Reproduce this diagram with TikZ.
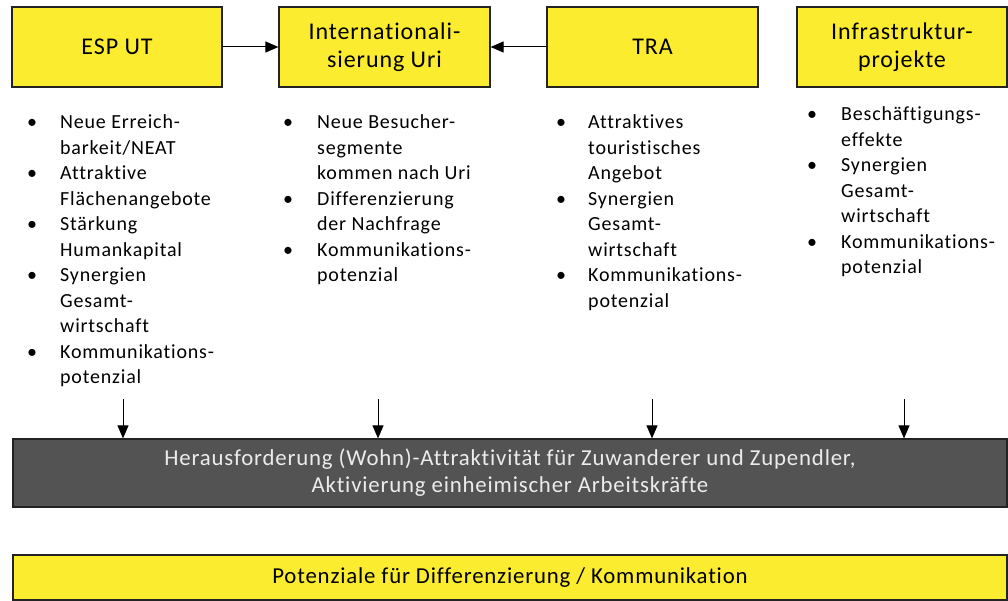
\documentclass[tikz,border=0pt]{standalone}
\usepackage{fontspec}
\setmainfont[Ligatures=NoCommon]{Carlito}
\newfontfamily\titlef[Ligatures=NoCommon, LetterSpace=3.8]{Carlito}
\newfontfamily\bodyf[Ligatures=NoCommon, LetterSpace=4.0]{Carlito}
\newfontfamily\widef[Ligatures=NoCommon, LetterSpace=3.6]{Carlito}
\usepackage{array}
\usetikzlibrary{arrows.meta}
\definecolor{ylw}{RGB}{252,236,48}
\definecolor{drk}{RGB}{82,83,82}
\definecolor{lighttxt}{RGB}{236,236,236}
\definecolor{edge}{RGB}{35,35,35}
\begin{document}
\begin{tikzpicture}[x=1pt,y=-1pt,
  topbox/.style={draw=edge, line width=1.2pt, fill=ylw, minimum width=210pt, minimum height=80pt,
    align=center, inner sep=0pt, font=\titlef\fontsize{24}{28}\selectfont},
  widebox/.style={draw=edge, line width=1.2pt, minimum width=994pt, align=center, inner sep=0pt,
    font=\widef\fontsize{22.8}{27}\selectfont},
  arr/.style={-{Triangle[length=13pt,width=11pt]}, line width=1pt, draw=black},
  col/.style={anchor=base west, inner sep=0pt, font=\bodyf\fontsize{20}{25.5}\selectfont}]
\useasboundingbox (0,0) rectangle (1008,601);

% top boxes
\node[topbox] (esp) at (117,47) {ESP UT};
\node[topbox, minimum width=211pt] (intl) at (384.5,47) {Internationali-\\sierung Uri};
\node[topbox, minimum width=211pt] (tra) at (652.5,47) {TRA};
\node[topbox] (infra) at (902,47) {Infrastruktur-\\projekte};

\draw[arr] (esp) -- (intl);
\draw[arr] (tra) -- (intl);

% bullet columns
\node[col] (c1) at (27,129) {\begin{tabular}[t]{@{}p{33pt}@{}l@{}}
\textbullet & Neue Erreich-\\ & barkeit/NEAT\\
\textbullet & Attraktive\\ & Flächenangebote\\
\textbullet & Stärkung\\ & Humankapital\\
\textbullet & Synergien\\ & Gesamt-\\ & wirtschaft\\
\textbullet & Kommunikations-\\ & potenzial
\end{tabular}};
\node[col] (c2) at (283,129) {\begin{tabular}[t]{@{}p{34pt}@{}l@{}}
\textbullet & Neue Besucher-\\ & segmente\\ & kommen nach Uri\\
\textbullet & Differenzierung\\ & der Nachfrage\\
\textbullet & Kommunikations-\\ & potenzial
\end{tabular}};
\node[col] (c3) at (556,129) {\begin{tabular}[t]{@{}p{32pt}@{}l@{}}
\textbullet & Attraktives\\ & touristisches\\ & Angebot\\
\textbullet & Synergien\\ & Gesamt-\\ & wirtschaft\\
\textbullet & Kommunikations-\\ & potenzial
\end{tabular}};
\node[col] (c4) at (807,121) {\begin{tabular}[t]{@{}p{34pt}@{}l@{}}
\textbullet & Beschäftigungs-\\ & effekte\\
\textbullet & Synergien\\ & Gesamt-\\ & wirtschaft\\
\textbullet & Kommunikations-\\ & potenzial
\end{tabular}};

% challenge box
\node[widebox, fill=drk, text=lighttxt, minimum height=68pt] (chal) at (510,473)
  {Herausforderung (Wohn)-Attraktivität für Zuwanderer und Zupendler,\\Aktivierung einheimischer Arbeitskräfte};

% arrows down
\coordinate (d1) at (123,399);
\coordinate (d2) at (378,399);
\coordinate (d3) at (652,399);
\coordinate (d4) at (904,399);
\draw[arr] (d1) -- (d1 |- chal.north);
\draw[arr] (d2) -- (d2 |- chal.north);
\draw[arr] (d3) -- (d3 |- chal.north);
\draw[arr] (d4) -- (d4 |- chal.north);

% bottom box
\node[widebox, fill=ylw, minimum height=45pt] (pot) at (510,577.5)
  {Potenziale für Differenzierung / Kommunikation};
\end{tikzpicture}
\end{document}
